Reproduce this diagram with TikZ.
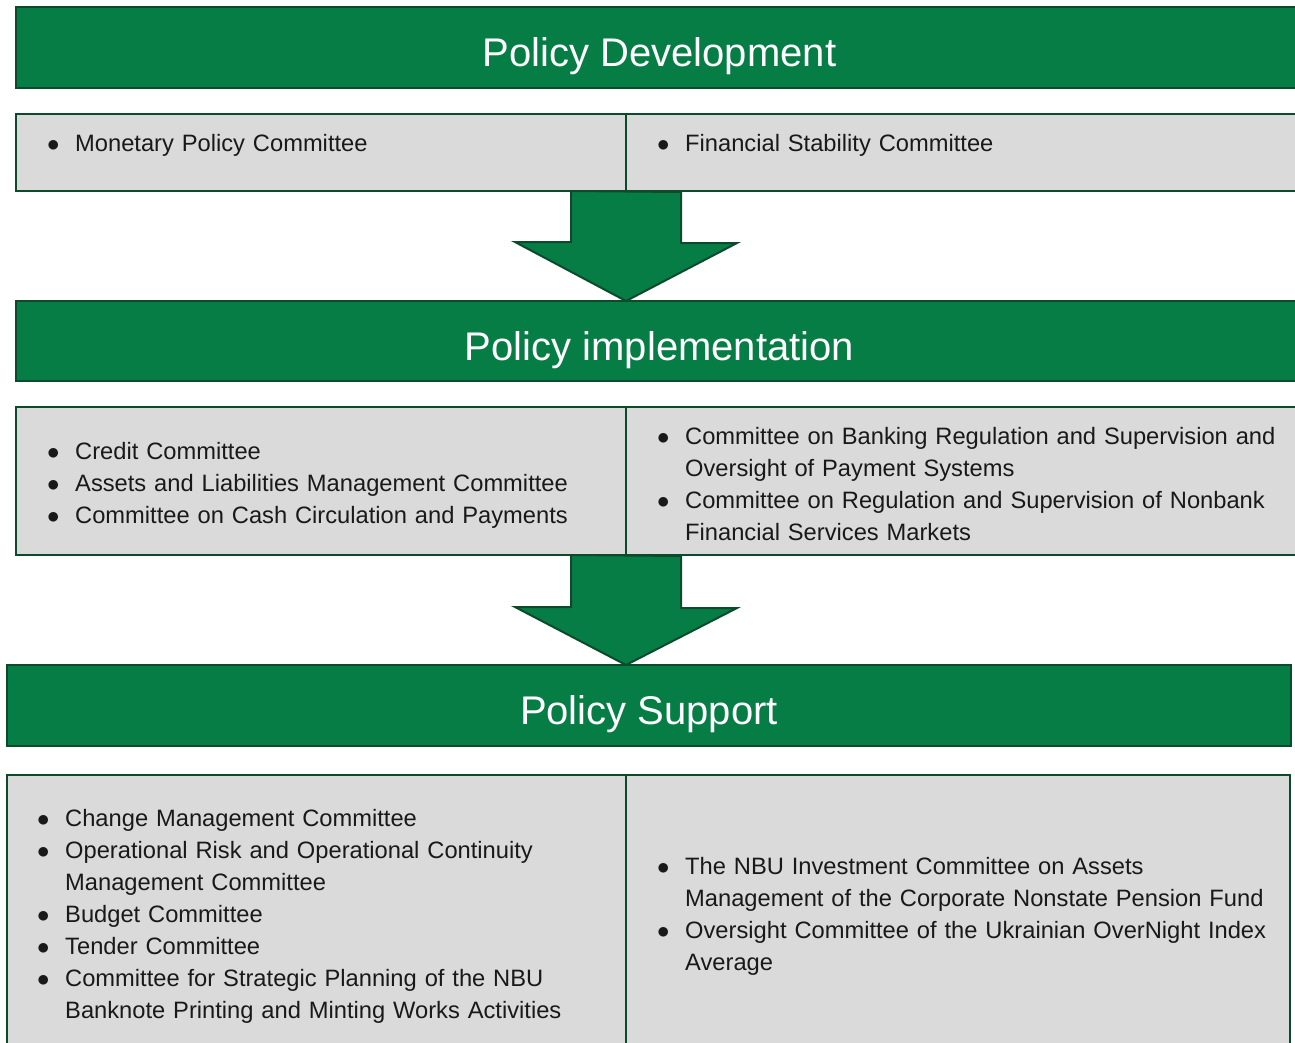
\documentclass[tikz,border=0pt]{standalone}
\usepackage{fontspec}
\setmainfont{Liberation Sans}
\usetikzlibrary{positioning,calc}

\definecolor{nbugreen}{HTML}{077D46}
\definecolor{nbudark}{HTML}{0B4A2B}
\definecolor{cellgray}{HTML}{DADADA}

\tikzset{
  banner/.style={draw=nbudark, line width=2.5pt, fill=nbugreen,
    anchor=north west, inner sep=0pt, outer sep=0pt},
  title/.style={text=white, inner sep=0pt, font=\fontsize{40}{48}\selectfont},
  cell/.style={draw=nbudark, line width=2.5pt, fill=cellgray,
    anchor=north west, inner sep=0pt, outer sep=0pt},
  listtext/.style={anchor=west, inner sep=0pt, text width=640pt, align=left,
    text=black!90, font=\fontsize{23.7}{32}\selectfont},
  blockarrow/.style={draw=nbudark, line width=2pt, fill=nbugreen, line join=miter}
}

% one bullet entry of a committee list
\newcommand{\bitem}[1]{\noindent\hangindent=28pt\hangafter=1%
  \makebox[28pt][l]{$\bullet$}#1\par}

\begin{document}
\begin{tikzpicture}[x=1pt,y=-1pt]
  \useasboundingbox (0,0) rectangle (1295,1042);

  % The banners
  \node[banner, minimum width=1287pt, minimum height=81pt] (dev) at (16,7) {};
  \node[banner, minimum width=1287pt, minimum height=80pt] (impl) at (16,301) {};
  \node[banner, minimum width=1284pt, minimum height=81pt] (supp) at (7,665) {};
  \node[title] (devtitle) at ($(dev.center)+(0,9)$) {Policy Development};
  \node[title] (impltitle) at ($(impl.center)+(0,9)$) {Policy implementation};
  \node[title] (supptitle) at ($(supp.center)+(0,9)$) {Policy Support};

  % The grey cells
  \node[cell, minimum width=610pt, minimum height=77pt] (devL) at (16,114) {};
  \node[cell, minimum width=677pt, minimum height=77pt] (devR) at (626,114) {};
  \node[cell, minimum width=610pt, minimum height=148pt] (implL) at (16,407) {};
  \node[cell, minimum width=677pt, minimum height=148pt] (implR) at (626,407) {};
  \node[cell, minimum width=619pt, minimum height=280pt] (suppL) at (7,775) {};
  \node[cell, minimum width=664pt, minimum height=280pt] (suppR) at (626,775) {};

  % The lists
  \node[listtext] (devLtxt) at ($(devL.west)+(31,-7)$) {\bitem{Monetary Policy Committee}};
  \node[listtext] (devRtxt) at ($(devR.west)+(31,-7)$) {\bitem{Financial Stability Committee}};
  \node[listtext] (implLtxt) at ($(implL.west)+(31,4)$) {%
    \bitem{Credit Committee}
    \bitem{Assets and Liabilities Management Committee}
    \bitem{Committee on Cash Circulation and Payments}};
  \node[listtext] (implRtxt) at ($(implR.west)+(31,3.5)$) {%
    \bitem{Committee on Banking Regulation and Supervision and\newline Oversight of Payment Systems}
    \bitem{Committee on Regulation and Supervision of Nonbank\newline Financial Services Markets}};
  \node[listtext] (suppLtxt) at ($(suppL.west)+(30,1)$) {%
    \bitem{Change Management Committee}
    \bitem{Operational Risk and Operational Continuity\newline Management Committee}
    \bitem{Budget Committee}
    \bitem{Tender Committee}
    \bitem{Committee for Strategic Planning of the NBU\newline Banknote Printing and Minting Works Activities}};
  \node[listtext] (suppRtxt) at ($(suppR.west)+(31,1)$) {%
    \bitem{The NBU Investment Committee on Assets\newline Management of the Corporate Nonstate Pension Fund}
    \bitem{Oversight Committee of the Ukrainian OverNight Index\newline Average}};

  % The block arrows
  \draw[blockarrow] ($(devL.south east)+(-55,0)$) -- ++(0,51) -- ++(-56,0)
    -- (devL.south east |- impl.north) -- ++(111,-58) -- ++(-56,0) -- ++(0,-51) -- cycle;
  \draw[blockarrow] ($(implL.south east)+(-55,0)$) -- ++(0,52) -- ++(-56,0)
    -- (implL.south east |- supp.north) -- ++(111,-57) -- ++(-56,0) -- ++(0,-52) -- cycle;
\end{tikzpicture}
\end{document}
